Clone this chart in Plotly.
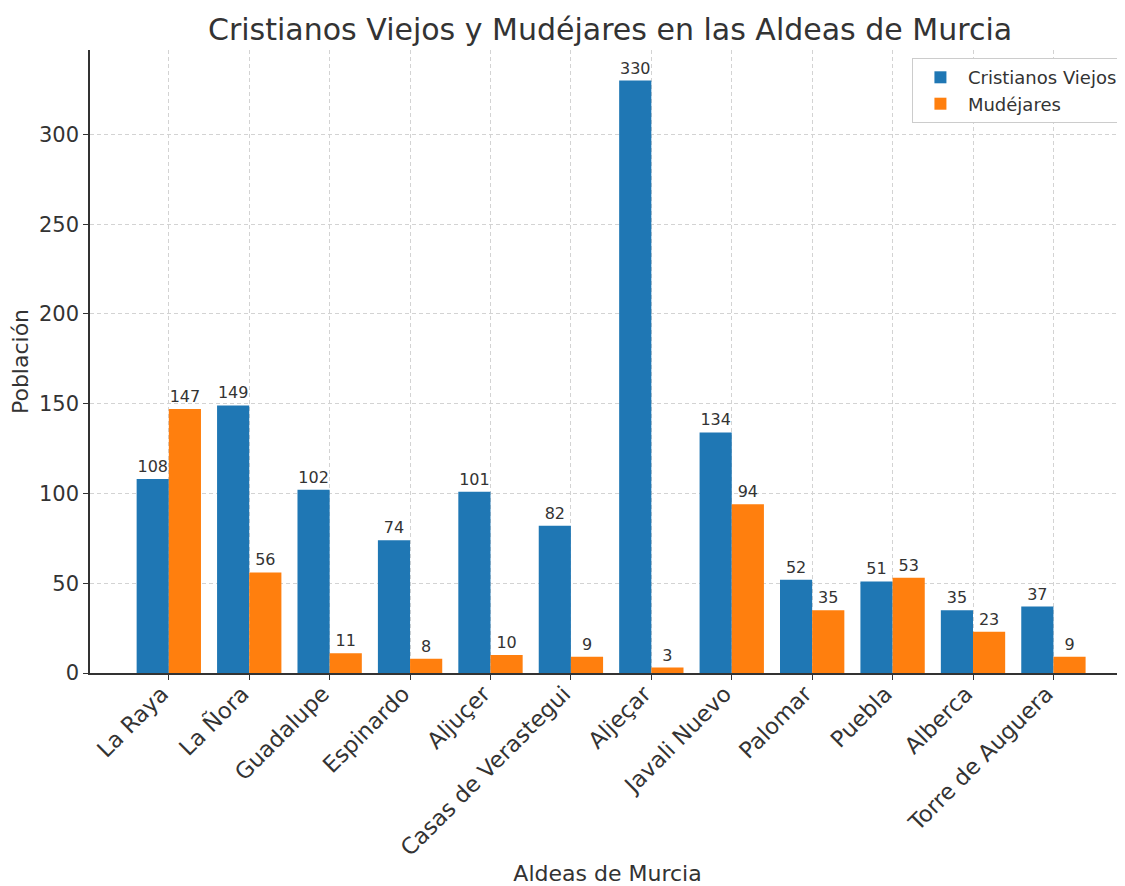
import plotly.graph_objects as go

aldeas = ["La Raya", "La Ñora", "Guadalupe", "Espinardo", "Aljuçer", "Casas de Verastegui",
          "Aljeçar", "Javali Nuevo", "Palomar", "Puebla", "Alberca", "Torre de Auguera"]
cristianos = [108, 149, 102, 74, 101, 82, 330, 134, 52, 51, 35, 37]
mudejares = [147, 56, 11, 8, 10, 9, 3, 94, 35, 53, 23, 9]

FONT = "DejaVu Sans"
fig = go.Figure()
fig.add_trace(go.Bar(x=aldeas, y=cristianos, name="Cristianos Viejos", marker_color="#1f77b4",
                     marker_line_width=0,
                     text=cristianos, textposition="outside",
                     textfont=dict(size=16, color="#333333", family=FONT), cliponaxis=False))
fig.add_trace(go.Bar(x=aldeas, y=mudejares, name="Mudéjares", marker_color="#ff7f0e",
                     marker_line_width=0,
                     text=mudejares, textposition="outside",
                     textfont=dict(size=16, color="#333333", family=FONT), cliponaxis=False))

fig.update_layout(
    width=1117, height=878,
    barmode="group", bargap=0.2, bargroupgap=0,
    plot_bgcolor="white", paper_bgcolor="white",
    font=dict(family=FONT, color="#333333"),
    margin=dict(l=82, r=0, t=42, b=213, autoexpand=False),
    title=dict(text="Cristianos Viejos y Mudéjares en las Aldeas de Murcia",
               x=0.539, xanchor="center", y=0.975, yanchor="middle",
               font=dict(size=30, family=FONT, color="#333333")),
    legend=dict(x=0.998, y=0.987, xanchor="right", yanchor="top",
                bordercolor="#cccccc", borderwidth=1, bgcolor="white", itemwidth=45,
                font=dict(size=18, family=FONT, color="#333333")),
    xaxis=dict(title=dict(text="Aldeas de Murcia", font=dict(size=22, family=FONT), standoff=22),
               automargin=False,
               range=[-0.98, 11.89], tickangle=-45, tickfont=dict(size=22.5, family=FONT),
               ticklabelstandoff=-8, ticklabelshift=-7,
               showgrid=True, gridcolor="#d3d3d3", griddash="4px,3px", gridwidth=1,
               showline=True, linecolor="#333333", linewidth=1.5,
               ticks="outside", ticklen=5, tickcolor="#333333"),
    yaxis=dict(title=dict(text="Población", font=dict(size=22, family=FONT), standoff=8),
               automargin=False,
               range=[0, 347], tickvals=[0, 50, 100, 150, 200, 250, 300],
               tickfont=dict(size=21, family=FONT),
               showgrid=True, gridcolor="#d3d3d3", griddash="4px,3px", gridwidth=1,
               zeroline=False,
               showline=True, linecolor="#333333", linewidth=1.5,
               ticks="outside", ticklen=5, tickcolor="#333333"),
)

fig.write_html("out.html")
